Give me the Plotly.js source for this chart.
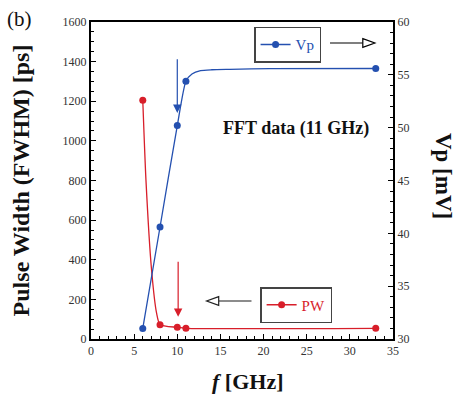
<!DOCTYPE html>
<html>
<head>
<meta charset="utf-8">
<script src="https://cdn.plot.ly/plotly-3.0.1.min.js"></script>
<style>html,body{margin:0;padding:0;background:#fff;}#chart{width:459px;height:396px;}</style>
</head>
<body>
<div id="chart"></div>
<script>
// Measured data points
var freq = [6, 8, 10, 11, 33];
var vp = [31.0, 40.6, 50.2, 54.4, 55.6];
var pw = [1205, 72, 59, 54, 54];
// Smooth guide curves as drawn in the figure
var vpCurveF = [6, 8, 10, 11, 11.7, 12.7, 14, 16.1, 20.7, 33];
var vpCurveV = [31.0, 40.6, 50.2, 54.4, 55.08, 55.4, 55.48, 55.52, 55.58, 55.6];
var pwCurveF = [6, 6.37, 7.02, 7.6, 8, 10, 11, 33];
var pwCurveV = [1205, 802, 348, 130, 72, 59, 54, 54];
var seriesNames = ['Vp', 'PW'];

var BLUE = '#2450b0', RED = '#d81e2a';
var SERIF = '"Liberation Serif", "Times New Roman", serif';

var traces = [
  {x: vpCurveF, y: vpCurveV, yaxis: 'y2', mode: 'lines', line: {color: BLUE, width: 1.3, shape: 'spline', smoothing: 0.6}, showlegend: false, hoverinfo: 'skip'},
  {x: pwCurveF, y: pwCurveV, mode: 'lines', line: {color: RED, width: 1.3, shape: 'spline', smoothing: 0.6}, showlegend: false, hoverinfo: 'skip'},
  {x: freq, y: vp, yaxis: 'y2', mode: 'markers', marker: {color: BLUE, size: 7}, showlegend: false},
  {x: freq, y: pw, mode: 'markers', marker: {color: RED, size: 7}, showlegend: false},
  // legend entries (line + marker symbol)
  {x: [null], y: [null], yaxis: 'y2', name: seriesNames[0], mode: 'lines+markers', line: {color: BLUE, width: 1.3}, marker: {color: BLUE, size: 7}, legend: 'legend'},
  {x: [null], y: [null], name: seriesNames[1], mode: 'lines+markers', line: {color: RED, width: 1.3}, marker: {color: RED, size: 7}, legend: 'legend2'}
];

var tickFont = {family: SERIF, size: 12, color: '#333'};

var layout = {
  width: 459, height: 396,
  margin: {l: 91, r: 66, t: 22, b: 57, pad: 0},
  paper_bgcolor: '#fff', plot_bgcolor: '#fff',
  showlegend: true,
  xaxis: {
    range: [0, 35], dtick: 5, tick0: 0, ticks: 'inside', ticklen: 5, tickwidth: 1.2, tickcolor: '#000',
    minor: {dtick: 1, ticks: 'inside', ticklen: 3, tickwidth: 1, tickcolor: '#000'},
    showline: true, linecolor: '#000', linewidth: 2, mirror: true,
    showgrid: false, zeroline: false, tickfont: tickFont
  },
  yaxis: {
    range: [0, 1600], dtick: 200, tick0: 0, ticks: 'inside', ticklen: 5, tickwidth: 1.2, tickcolor: '#000',
    minor: {dtick: 50, ticks: 'inside', ticklen: 3, tickwidth: 1, tickcolor: '#000'},
    showline: true, linecolor: '#000', linewidth: 2,
    showgrid: false, zeroline: false, tickfont: tickFont,
    title: {text: '<b>Pulse Width (FWHM) [ps]</b>', font: {family: SERIF, size: 24, color: '#111'}, standoff: 26}
  },
  yaxis2: {
    overlaying: 'y', side: 'right',
    range: [30, 60], dtick: 5, tick0: 30, ticks: 'inside', ticklen: 5, tickwidth: 1.2, tickcolor: '#000',
    minor: {dtick: 1, ticks: 'inside', ticklen: 3, tickwidth: 1, tickcolor: '#000'},
    showline: true, linecolor: '#000', linewidth: 2,
    showgrid: false, zeroline: false, tickfont: tickFont
  },
  legend: {
    x: 0.54, y: 0.985, xanchor: 'left', yanchor: 'top',
    bgcolor: '#fff', bordercolor: '#444', borderwidth: 1.5,
    font: {family: SERIF, size: 15, color: BLUE}, itemwidth: 30
  },
  legend2: {
    x: 0.56, y: 0.164, xanchor: 'left', yanchor: 'top',
    bgcolor: '#fff', bordercolor: '#444', borderwidth: 1.5,
    font: {family: SERIF, size: 15, color: RED}, itemwidth: 30
  },
  annotations: [
    {xref: 'paper', yref: 'paper', x: -0.285, y: 1.055, xanchor: 'left', yanchor: 'top', text: '(b)', showarrow: false,
     font: {family: SERIF, size: 21, color: '#111'}},
    {xref: 'paper', yref: 'paper', x: 0.517, y: -0.135, xanchor: 'center', yanchor: 'middle', text: '<b><i>f</i> [GHz]</b>', showarrow: false,
     font: {family: SERIF, size: 22, color: '#111'}},
    {xref: 'paper', yref: 'paper', x: 1.165, y: 0.515, xanchor: 'center', yanchor: 'middle', textangle: 90, text: '<b>Vp [mV]</b>', showarrow: false,
     font: {family: SERIF, size: 23, color: '#111'}},
    {xref: 'x', yref: 'y', x: 32.4, y: 1065, xanchor: 'right', yanchor: 'middle', text: '<b>FFT data (11 GHz)</b>', showarrow: false,
     font: {family: SERIF, size: 18, color: '#111'}},
    {xref: 'x', yref: 'y', x: 10, y: 1141, axref: 'x', ayref: 'y', ax: 10, ay: 1420, text: '', showarrow: true,
     arrowhead: 2, arrowsize: 1.4, arrowwidth: 1.2, arrowcolor: BLUE},
    {xref: 'x', yref: 'y', x: 10.1, y: 112, axref: 'x', ayref: 'y', ax: 10.1, ay: 397, text: '', showarrow: true,
     arrowhead: 2, arrowsize: 1.4, arrowwidth: 1.2, arrowcolor: RED}
  ],
  shapes: [
    {type: 'line', xref: 'x', yref: 'y', x0: 27.7, x1: 31.5, y0: 1494, y1: 1494, line: {color: '#000', width: 1.2}},
    {type: 'path', xref: 'x', yref: 'y', path: 'M31.5,1516 L32.9,1494 L31.5,1472 Z', fillcolor: '#fff', line: {color: '#000', width: 1.2}},
    {type: 'line', xref: 'x', yref: 'y', x0: 18.6, x1: 14.8, y0: 192, y1: 192, line: {color: '#666', width: 1.5}},
    {type: 'path', xref: 'x', yref: 'y', path: 'M14.8,214 L13.4,192 L14.8,170 Z', fillcolor: '#fff', line: {color: '#222', width: 1.2}}
  ]
};

Plotly.newPlot('chart', traces, layout, {staticPlot: true, displayModeBar: false});
</script>
</body>
</html>
